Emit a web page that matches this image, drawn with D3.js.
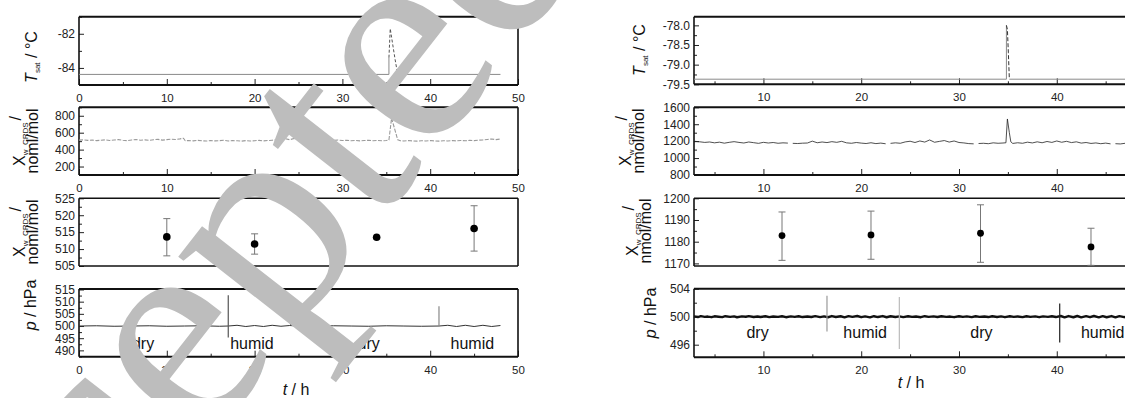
<!DOCTYPE html>
<html>
<head>
<meta charset="utf-8">
<script src="https://cdn.jsdelivr.net/npm/d3@7"></script>
<style>
  body { margin: 0; background: #fff; }
  svg { display: block; font-family: "Liberation Sans", Arial, sans-serif; }
</style>
</head>
<body>
<svg id="chart" width="1125" height="398"></svg>
<script>
// ---------------- data ----------------
// time axis ticks (h)
const hourLabelsLeft = [0, 10, 20, 30, 40, 50];
const hourLabelsRight = [10, 20, 30, 40];
const hourMinor = [5, 15, 25, 35, 45];

// Run A: saturator temperature (°C)
const tsatLeftTrace = [[0, -84.38], [35.3, -84.38], [35.3, -83.4], null, [36.3, -84.38], [48, -84.38]];
const tsatLeftPeak = [[35.3, -83.4], [35.45, -81.7], [35.6, -82.2], [36.0, -83.5], [36.3, -84.38]];
// Run B: saturator temperature (°C)
const tsatRightTrace = [[2.9, -79.37], [34.85, -79.37], [34.85, -78.0], null, [35.15, -79.37], [48, -79.37]];
const tsatRightPeak = [[34.85, -78.0], [34.95, -78.1], [35.05, -78.7], [35.15, -79.37]];

// Run A: CRDS amount fraction (nmol/mol)
const xwLeft = [[0,512],[0.5,516],[1,509],[1.5,514],[2,506],[2.5,511],[3,515],[3.5,508],[4,513],[4.5,518],[5,510],[5.5,506],[6,514],[6.5,519],[7,511],[7.5,515],[8,509],[8.5,517],[9,521],[9.5,512],[10,518],[10.5,523],[11,520],[11.5,527],[11.9,534],[12.1,504],[12.5,508],[13,503],[13.5,509],[14,505],[14.5,501],[15,507],[15.5,503],[16,506],[16.5,510],[17,502],[17.5,507],[18,504],[18.5,500],[19,506],[19.5,502],[20,505],[20.5,509],[21,503],[21.5,507],[22,511],[22.5,515],[23,520],[23.5,528],[24,517],[24.5,532],[25,513],[25.5,507],[26,504],[26.5,510],[27,503],[27.5,508],[28,512],[28.5,505],[29,509],[29.5,514],[30,507],[30.5,511],[31,505],[31.5,509],[32,503],[32.5,507],[33,511],[33.5,505],[34,509],[34.5,504],[35,508],[35.3,514],[35.6,772],[36.3,516],[36.6,505],[37,502],[37.5,507],[38,503],[38.5,500],[39,505],[39.5,502],[40,507],[40.5,503],[41,500],[41.5,505],[42,502],[42.5,507],[43,503],[43.5,508],[44,505],[44.5,510],[45,506],[45.5,512],[46,515],[46.5,520],[47,526],[47.5,518],[48,525]];
// Run B: CRDS amount fraction (nmol/mol)
const xwRight = [[3,1198],[3.5,1192],[4,1185],[4.5,1190],[5,1180],[5.5,1188],[6,1176],[6.5,1186],[7,1194],[7.5,1185],[8,1178],[8.5,1190],[9,1182],[9.5,1174],[10,1186],[10.5,1178],[11,1184],[11.5,1175],[12,1180],[12.5,1177],null,[13,1174],[13.5,1172],[14,1176],[14.5,1178],[15,1200],[15.5,1181],[16,1190],[16.5,1183],[17,1194],[17.5,1186],[18,1198],[18.5,1180],[19,1175],[19.5,1184],[20,1177],[20.5,1172],[21,1181],[21.5,1171],[22,1177],[22.5,1169],null,[23,1174],[23.5,1180],[24,1175],[24.5,1191],[25,1199],[25.5,1184],[26,1202],[26.5,1189],[27,1214],[27.5,1187],[28,1197],[28.5,1207],[29,1189],[29.5,1202],[30,1184],[30.5,1179],[31,1171],[31.5,1168],null,[32,1172],[32.5,1175],[33,1170],[33.5,1180],[34,1175],[34.5,1178],[34.8,1181],[34.95,1462],[35.15,1300],[35.3,1192],[35.5,1173],[36,1181],[36.5,1175],[37,1188],[37.5,1179],[38,1192],[38.5,1181],[39,1196],[39.5,1185],[40,1202],[40.5,1187],[41,1198],[41.5,1183],[42,1192],[42.5,1177],[43,1184],[43.5,1173],[44,1179],[44.5,1170],[45,1177],[45.5,1168],null,[46,1170],[46.5,1167],[47,1175],[47.5,1179],[48,1171]];

// Mean values with spread (nmol/mol)
const meanLeftT = [10, 20, 33.9, 45];
const meanLeftV = [513.6, 511.5, 513.5, 516.1];
const meanLeftLo = [508.0, 508.5, 513.3, 509.4];
const meanLeftHi = [519.0, 514.5, 513.7, 522.8];
const meanRightT = [11.9, 21.0, 32.2, 43.5];
const meanRightV = [1182.8, 1183.1, 1183.9, 1177.6];
const meanRightLo = [1171.4, 1171.9, 1170.5, 1169.1];
const meanRightHi = [1193.7, 1194.1, 1197.0, 1186.2];

// Pressure (hPa)
const pLeft = [[0,500],[2,500.1],[4,499.9],[6,500],[8,500.1],[10,499.9],[12,500],[14,500.1],[16,499.9],[17,500],[18,500.3],[19,499.8],[20,500.2],[21,499.8],[22,500.3],[23,499.9],[24,500.2],[25,500],[27,499.9],[29,500.1],[31,500],[33,499.9],[35,500.1],[37,500],[39,499.9],[41,500],[42,500.3],[43,499.8],[44,500.3],[45,499.8],[46,500.3],[47,499.8],[48,500.2]];
const pRight = [[2.9,500.05],[3.3,499.95],[3.6,500.08],[4,499.97],[4.3,500.02],[4.7,499.93],[5,500.06],[5.4,500.0],[5.8,499.94],[6.1,500.07],[6.6,499.98],[7,500.04],[7.3,499.92],[7.8,500.05],[8.2,499.99],[8.5,500.08],[9,499.95],[9.4,500.03],[9.7,499.96],[10.2,500.07],[10.6,499.94],[11,500.02],[11.5,499.97],[11.9,500.06],[12.3,499.93],[12.8,500.04],[13.2,499.98],[13.6,500.07],[14,499.95],[14.5,500.03],[14.9,499.96],[15.3,500.08],[15.8,499.94],[16.2,500.05],[16.6,499.92],[17,500.09],[17.4,499.96],[17.9,500.06],[18.3,499.91],[18.7,500.08],[19.1,499.97],[19.6,500.1],[20,499.93],[20.4,500.05],[20.9,499.9],[21.3,500.07],[21.7,499.95],[22.2,500.09],[22.6,499.92],[23,500.06],[23.5,499.96],[23.9,500.04],[24.3,499.94],[24.8,500.06],[25.2,499.97],[25.6,500.03],[26.1,499.93],[26.5,500.07],[26.9,499.98],[27.4,500.04],[27.8,499.95],[28.2,500.06],[28.7,499.97],[29.1,500.02],[29.5,499.93],[30,500.07],[30.4,499.98],[30.8,500.04],[31.3,499.94],[31.7,500.06],[32.1,499.97],[32.6,500.03],[33,499.95],[33.4,500.07],[33.9,499.96],[34.3,500.04],[34.7,499.93],[35.2,500.06],[35.6,499.98],[36,500.03],[36.5,499.94],[36.9,500.07],[37.3,499.97],[37.8,500.05],[38.2,499.93],[38.6,500.04],[39.1,499.97],[39.5,500.06],[39.9,499.95],[40.4,500.1],[40.8,499.9],[41.2,500.09],[41.7,499.92],[42.1,500.1],[42.5,499.91],[43,500.08],[43.4,499.93],[43.8,500.1],[44.3,499.9],[44.7,500.08],[45.1,499.92],[45.6,500.09],[46,499.91],[46.4,500.08],[46.9,499.93],[47.3,500.09],[47.7,499.92],[48,500.05]];
// switching transients: time, low, high (hPa)
const switchLeftT = [17.0, 24.1, 41.0];
const switchLeftLo = [495.3, 500, 500];
const switchLeftHi = [512.6, 506.6, 508.1];
const switchRightT = [16.5, 23.9, 40.3];
const switchRightLo = [497.9, 495.4, 496.3];
const switchRightHi = [503.0, 502.8, 501.9];

// phase labels
const phaseNames = ["dry", "humid", "dry", "humid"];
const phaseLeftT = [7.3, 19.7, 33.0, 44.8];
const phaseRightT = [9.4, 20.4, 32.3, 44.7];

// y ticks
const ticksTsatLeft = [-84, -82], minorTsatLeft = [-85, -83, -81];
const ticksXwLeft = [200, 400, 600, 800], minorXwLeft = [100, 300, 500, 700, 900];
const ticksMeanLeft = [505, 510, 515, 520, 525], minorMeanLeft = [507.5, 512.5, 517.5, 522.5];
const ticksPLeft = [490, 495, 500, 505, 510, 515], minorPLeft = [487.5, 492.5, 497.5, 502.5, 507.5, 512.5];
const ticksTsatRight = [-79.5, -79.0, -78.5, -78.0], minorTsatRight = [-79.25, -78.75, -78.25];
const ticksXwRight = [800, 1000, 1200, 1400, 1600], minorXwRight = [900, 1100, 1300, 1500];
const ticksMeanRight = [1170, 1180, 1190, 1200], minorMeanRight = [1175, 1185, 1195];
const ticksPRight = [496, 500, 504], minorPRight = [498, 502];

// ---------------- drawing ----------------
const svg = d3.select("#chart");
const hyphen = s => s.replace("\u2212", "-");
const fmt0 = v => hyphen(d3.format("d")(v));
const fmt1 = v => hyphen(d3.format(".1f")(v));

const xL = d3.scaleLinear().domain([0, 50]).range([79, 518]);
const xR = d3.scaleLinear().domain([2.9, 48]).range([694, 1135]);

function panel(x, top, bottom, yDomain, opts) {
  const y = d3.scaleLinear().domain(yDomain).range([bottom, top]);
  const g = svg.append("g");
  const [x0, x1] = x.range();
  // y axis, ticks pointing inward
  const ya = g.append("g").attr("transform", `translate(${x0},0)`)
    .call(d3.axisLeft(y).tickValues(opts.yTicks).tickSizeInner(-5).tickSizeOuter(0)
      .tickPadding(4).tickFormat(opts.yFmt || fmt0));
  ya.select(".domain").remove();
  ya.selectAll("text").attr("font-size", 12).attr("fill", "#222")
    .attr("font-family", "Liberation Sans, Arial, sans-serif");
  ya.selectAll("line").attr("stroke", "#222");
  const ym = g.append("g").attr("transform", `translate(${x0},0)`)
    .call(d3.axisLeft(y).tickValues(opts.yMinor).tickSizeInner(-3).tickSizeOuter(0).tickFormat(""));
  ym.select(".domain").remove();
  ym.selectAll("line").attr("stroke", "#222");

  if (opts.xTicks) {
    const xa = g.append("g").attr("transform", `translate(0,${bottom})`)
      .call(d3.axisBottom(x).tickValues(opts.xTicks).tickSizeInner(-6).tickSizeOuter(0)
        .tickPadding(9).tickFormat(opts.xLabels ? fmt0 : ""));
    xa.select(".domain").remove();
    xa.selectAll("text").attr("font-size", 11.5).attr("fill", "#222")
      .attr("font-family", "Liberation Sans, Arial, sans-serif");
    xa.selectAll("line").attr("stroke", "#222");
    const xm = g.append("g").attr("transform", `translate(0,${bottom})`)
      .call(d3.axisBottom(x).tickValues(hourMinor).tickSizeInner(-3).tickSizeOuter(0).tickFormat(""));
    xm.select(".domain").remove();
    xm.selectAll("line").attr("stroke", "#222");
  }
  // frame
  const sw = opts.frameWidth || 2;
  g.append("line").attr("x1", x0).attr("x2", x1).attr("y1", top).attr("y2", top)
    .attr("stroke", "#111").attr("stroke-width", sw);
  g.append("line").attr("x1", x0).attr("x2", x1).attr("y1", bottom).attr("y2", bottom)
    .attr("stroke", "#111").attr("stroke-width", sw);
  g.append("line").attr("x1", x0).attr("x2", x0).attr("y1", top).attr("y2", bottom)
    .attr("stroke", "#111").attr("stroke-width", 1.6);
  g.append("line").attr("x1", x1).attr("x2", x1).attr("y1", top).attr("y2", bottom)
    .attr("stroke", "#111").attr("stroke-width", 1.6);
  return { g, y };
}

function trace(p, x, data, style) {
  const line = d3.line().defined(d => d).x(d => x(d[0])).y(d => p.y(d[1]));
  p.g.append("path").datum(data).attr("d", line).attr("fill", "none")
    .attr("stroke", style.color).attr("stroke-width", style.width)
    .attr("stroke-dasharray", style.dash || null)
    .attr("stroke-linejoin", "round");
}

function means(p, x, T, V, lo, hi, r) {
  const g = p.g.append("g");
  T.forEach((t, i) => {
    const cx = x(t);
    if (p.y(lo[i]) - p.y(hi[i]) > 2) {
      g.append("line").attr("x1", cx).attr("x2", cx).attr("y1", p.y(lo[i])).attr("y2", p.y(hi[i]))
        .attr("stroke", "#777").attr("stroke-width", 1);
      [lo[i], hi[i]].forEach(v => g.append("line").attr("x1", cx - 3.5).attr("x2", cx + 3.5)
        .attr("y1", p.y(v)).attr("y2", p.y(v)).attr("stroke", "#777").attr("stroke-width", 1));
    }
    g.append("circle").attr("cx", cx).attr("cy", p.y(V[i])).attr("r", r).attr("fill", "#000");
  });
}

function switches(p, x, T, lo, hi, colors) {
  T.forEach((t, i) => {
    p.g.append("line").attr("x1", x(t)).attr("x2", x(t)).attr("y1", p.y(lo[i])).attr("y2", p.y(hi[i]))
      .attr("stroke", colors[i]).attr("stroke-width", 1.2);
  });
}

function phases(p, x, T, yv) {
  T.forEach((t, i) => {
    p.g.append("text").attr("x", x(t)).attr("y", p.y(yv)).attr("text-anchor", "middle")
      .attr("font-size", 16).attr("fill", "#111").text(phaseNames[i]);
  });
}

// rotated axis titles
function titleT(cx, cy) {
  const t = svg.append("text").attr("transform", `translate(${cx},${cy}) rotate(-90)`)
    .attr("text-anchor", "middle").attr("font-size", 16).attr("fill", "#111");
  t.append("tspan").attr("font-style", "italic").text("T");
  t.append("tspan").attr("font-size", 8).attr("dy", 3).text("sat");
  t.append("tspan").attr("dy", -3).text(" / °C");
}
function titleX(cx, cy, unit) {
  const t = svg.append("text").attr("transform", `translate(${cx},${cy}) rotate(-90)`)
    .attr("text-anchor", "middle").attr("font-size", 16).attr("fill", "#111");
  t.append("tspan").text("X");
  t.append("tspan").attr("font-size", 8).attr("dy", 3).text("w_CRDS");
  t.append("tspan").attr("dy", -7).attr("dx", 2).text("/");
  svg.append("text").attr("transform", `translate(${cx + 13},${cy}) rotate(-90)`)
    .attr("text-anchor", "middle").attr("font-size", 16).attr("fill", "#111").text(unit);
}
function titleP(cx, cy) {
  const t = svg.append("text").attr("transform", `translate(${cx},${cy}) rotate(-90)`)
    .attr("text-anchor", "middle").attr("font-size", 16).attr("fill", "#111");
  t.append("tspan").attr("font-style", "italic").text("p");
  t.append("tspan").text(" / hPa");
}
function titleTime(cx, cy) {
  const t = svg.append("text").attr("x", cx).attr("y", cy).attr("text-anchor", "middle")
    .attr("font-size", 16).attr("fill", "#111");
  t.append("tspan").attr("font-style", "italic").text("t");
  t.append("tspan").text(" / h");
}

// ----- run A (left) -----
const a1 = panel(xL, 16.7, 85, [-85, -81], { yTicks: ticksTsatLeft, yMinor: minorTsatLeft, xTicks: hourLabelsLeft, xLabels: true });
trace(a1, xL, tsatLeftTrace, { color: "#8a8a8a", width: 1 });
trace(a1, xL, tsatLeftPeak, { color: "#555", width: 1, dash: "3,2" });

const a2 = panel(xL, 107.3, 175, [100, 900], { yTicks: ticksXwLeft, yMinor: minorXwLeft, xTicks: hourLabelsLeft, xLabels: true });
trace(a2, xL, xwLeft, { color: "#9a9a9a", width: 1.1, dash: "4,1.5" });

const a3 = panel(xL, 198.3, 266, [505, 525], { yTicks: ticksMeanLeft, yMinor: minorMeanLeft, frameWidth: 1.6 });
means(a3, xL, meanLeftT, meanLeftV, meanLeftLo, meanLeftHi, 3.8);

const a4 = panel(xL, 289, 356.7, [487.4, 515.2], { yTicks: ticksPLeft, yMinor: minorPLeft, xTicks: hourLabelsLeft, xLabels: true });
trace(a4, xL, pLeft, { color: "#333", width: 1 });
switches(a4, xL, switchLeftT, switchLeftLo, switchLeftHi, ["#555", "#444", "#888"]);
phases(a4, xL, phaseLeftT, 490.4);

titleT(37, 57);
titleX(25, 141, "noml/mol");
titleX(25, 232, "noml/mol");
titleP(36, 305);
titleTime(296, 395);

// ----- run B (right) -----
const b1 = panel(xR, 16.7, 84.3, [-79.5, -77.78], { yTicks: ticksTsatRight, yMinor: minorTsatRight, yFmt: fmt1, xTicks: hourLabelsRight, xLabels: true });
trace(b1, xR, tsatRightTrace, { color: "#8a8a8a", width: 1 });
trace(b1, xR, tsatRightPeak, { color: "#333", width: 1, dash: "4,2" });

const b2 = panel(xR, 107.3, 175, [800, 1600], { yTicks: ticksXwRight, yMinor: minorXwRight, xTicks: hourLabelsRight, xLabels: true });
trace(b2, xR, xwRight, { color: "#222", width: 0.8 });

const b3 = panel(xR, 198.3, 266, [1168.8, 1200], { yTicks: ticksMeanRight, yMinor: minorMeanRight, frameWidth: 1.6 });
means(b3, xR, meanRightT, meanRightV, meanRightLo, meanRightHi, 3.4);

const b4 = panel(xR, 288.7, 357.3, [494.2, 504], { yTicks: ticksPRight, yMinor: minorPRight, xTicks: hourLabelsRight, xLabels: true });
trace(b4, xR, pRight, { color: "#111", width: 2.4 });
switches(b4, xR, switchRightT, switchRightLo, switchRightHi, ["#999", "#bbb", "#222"]);
phases(b4, xR, phaseRightT, 496.9);

titleT(645, 50);
titleX(631, 141, "nmol/mol");
titleX(638, 231, "nmol/mol");
titleP(656, 313);
titleTime(911, 388);

// ----- watermark -----
svg.append("text")
  .attr("transform", "translate(252,386) rotate(-52)")
  .attr("text-anchor", "middle")
  .attr("font-family", "Liberation Serif, Times New Roman, serif")
  .attr("font-size", 300).attr("fill", "#bdbdbd")
  .text("Accepted");
</script>
</body>
</html>
